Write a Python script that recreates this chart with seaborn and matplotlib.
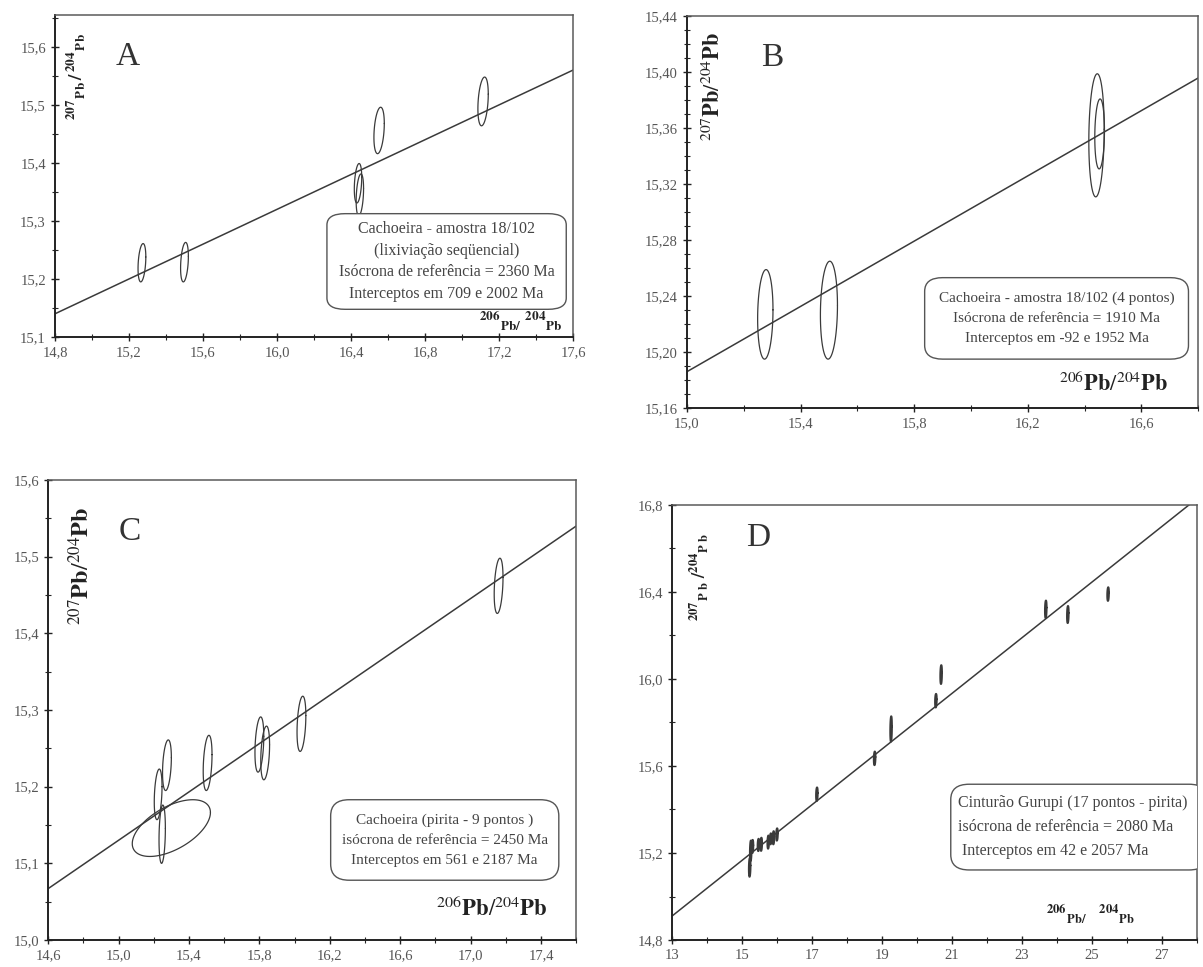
"""
Pb-Pb reference isochrons, four panels (A-D).
Rebuilt with seaborn/matplotlib from the scanned figure.
"""

import numpy as np
import matplotlib
matplotlib.use("Agg")
import matplotlib.pyplot as plt
from matplotlib.patches import FancyBboxPatch
from matplotlib.ticker import FixedLocator, AutoMinorLocator, FuncFormatter
import seaborn as sns

# ---- panel A : ellipses (centre, half-extent x / y, correlation)
a_x   = [15.27, 15.50, 16.438, 16.448, 16.552, 17.114]
a_y   = [15.228, 15.229, 15.365, 15.345, 15.456, 15.506]
a_sx  = [0.021, 0.021, 0.020, 0.020, 0.028, 0.028]
a_sy  = [0.033, 0.034, 0.034, 0.036, 0.040, 0.042]
a_rho = [0.3, 0.3, 0.3, 0.3, 0.3, 0.3]
a_line_x = [14.8, 17.6]
a_line_y = [15.140, 15.560]
a_xticks = [14.8, 15.2, 15.6, 16.0, 16.4, 16.8, 17.2, 17.6]
a_yticks = [15.1, 15.2, 15.3, 15.4, 15.5, 15.6]

# ---- panel B
b_x   = [15.276, 15.50, 16.442, 16.453]
b_y   = [15.227, 15.230, 15.355, 15.356]
b_sx  = [0.027, 0.030, 0.027, 0.017]
b_sy  = [0.032, 0.035, 0.044, 0.025]
b_rho = [0.1, 0.1, 0.1, 0.1]
b_line_x = [15.0, 16.8]
b_line_y = [15.186, 15.396]
b_xticks = [15.0, 15.4, 15.8, 16.2, 16.6]
b_yticks = [15.16, 15.20, 15.24, 15.28, 15.32, 15.36, 15.40, 15.44]

# ---- panel C
c_x   = [15.225, 15.275, 15.248, 15.30, 15.506, 15.80, 15.833, 16.039, 17.159]
c_y   = [15.19, 15.228, 15.138, 15.146, 15.231, 15.255, 15.244, 15.282, 15.462]
c_sx  = [0.022, 0.025, 0.018, 0.222, 0.025, 0.025, 0.025, 0.025, 0.025]
c_sy  = [0.033, 0.033, 0.038, 0.037, 0.036, 0.036, 0.035, 0.036, 0.036]
c_rho = [0.3, 0.3, 0.2, 0.55, 0.3, 0.3, 0.3, 0.3, 0.3]
c_line_x = [14.6, 17.6]
c_line_y = [15.067, 15.540]
c_xticks = [14.6, 15.0, 15.4, 15.8, 16.2, 16.6, 17.0, 17.4]
c_yticks = [15.0, 15.1, 15.2, 15.3, 15.4, 15.5, 15.6]

# ---- panel D (17 points)
d_x  = [15.22, 15.25, 15.30, 15.47, 15.55, 15.75, 15.82, 15.90, 16.00, 17.14,
        18.79, 19.26, 20.54, 20.69, 23.68, 24.31, 25.46]
d_y  = [15.134, 15.21, 15.23, 15.237, 15.24, 15.25, 15.265, 15.27, 15.285, 15.47,
        15.635, 15.77, 15.90, 16.02, 16.32, 16.296, 16.39]
d_sx = [0.022] * 17
d_sy = [0.043, 0.047, 0.03, 0.028, 0.03, 0.03, 0.025, 0.03, 0.028, 0.031,
        0.031, 0.058, 0.031, 0.043, 0.04, 0.039, 0.031]
d_rho = [0.2] * 17
d_line_x = [13.0, 28.0]
d_line_y = [14.91, 16.829]
d_xticks = [13, 15, 17, 19, 21, 23, 25, 27]
d_yticks = [14.8, 15.2, 15.6, 16.0, 16.4, 16.8]

texts = {
    "A": "Cachoeira - amostra 18/102\n(lixiviação seqüencial)\n"
         "Isócrona de referência = 2360 Ma\nInterceptos em 709 e 2002 Ma",
    "B": "Cachoeira - amostra 18/102 (4 pontos)\n"
         "Isócrona de referência = 1910 Ma\nInterceptos em -92 e 1952 Ma",
    "C": "Cachoeira (pirita - 9 pontos )\n"
         "isócrona de referência = 2450 Ma\nInterceptos em 561 e 2187 Ma",
    "D": "Cinturão Gurupi (17 pontos - pirita)\n"
         "isócrona de referência = 2080 Ma\n Interceptos em 42 e 2057 Ma",
}

INK = "#3a3a3a"

sns.set_theme(style="ticks")
plt.rcParams["font.family"] = ["Liberation Serif", "DejaVu Serif"]
plt.rcParams["mathtext.fontset"] = "stix"
plt.rcParams["axes.edgecolor"] = "#222222"


def ellipse_pts(x, y, sx, sy, rho, n=120):
    t = np.linspace(0, 2 * np.pi, n)
    ex = x + sx * np.cos(t)
    ey = y + sy * (rho * np.cos(t) + np.sqrt(1 - rho ** 2) * np.sin(t))
    return ex, ey


def comma(fmt):
    return FuncFormatter(lambda v, p: (fmt % v).replace(".", ","))


def panel(ax, xs, ys, sxs, sys_, rhos, lx, ly, lw_ell=0.9):
    sns.lineplot(x=lx, y=ly, ax=ax, color=INK, lw=1.1, sort=False)
    for x, y, sx, sy, r in zip(xs, ys, sxs, sys_, rhos):
        ex, ey = ellipse_pts(x, y, sx, sy, r)
        ax.plot(ex, ey, color=INK, lw=lw_ell)


def style(ax, xlim, ylim, xticks, yticks, ysub, xfmt, yfmt):
    ax.set_xlim(*xlim)
    ax.set_ylim(*ylim)
    ax.xaxis.set_major_locator(FixedLocator(xticks))
    ax.yaxis.set_major_locator(FixedLocator(yticks))
    ax.xaxis.set_minor_locator(AutoMinorLocator(2))
    ax.yaxis.set_minor_locator(AutoMinorLocator(ysub))
    ax.xaxis.set_major_formatter(comma(xfmt))
    ax.yaxis.set_major_formatter(comma(yfmt))
    ax.tick_params(which="major", direction="inout", length=6, width=1,
                   labelsize=10.5, colors="#222222", labelcolor="#555555")
    ax.tick_params(which="minor", direction="inout", length=4, width=0.8)
    for side, s in ax.spines.items():
        s.set_visible(True)
        if side in ("top", "right"):
            s.set_linewidth(1.1)
            s.set_color("#5a5a5a")
        else:
            s.set_linewidth(1.4)
    ax.set_xlabel("")
    ax.set_ylabel("")


def box(ax, x0, y0, x1, y1, txt, fs, ha="center", tx=None, ls=1.6):
    p = FancyBboxPatch((x0, y0), x1 - x0, y1 - y0, transform=ax.transAxes,
                       boxstyle="round,pad=0,rounding_size=0.035",
                       fc="white", ec="#555555", lw=1.0, clip_on=True,
                       zorder=3)
    ax.add_patch(p)
    if tx is None:
        tx = (x0 + x1) / 2
    ax.text(tx, (y0 + y1) / 2, txt, transform=ax.transAxes, ha=ha,
            va="center", fontsize=fs, color="#444444", linespacing=ls,
            zorder=4, clip_on=True)


fig = plt.figure(figsize=(12.03, 9.67), dpi=100)
axA = fig.add_axes([0.0457, 0.6515, 0.4306, 0.333])
axB = fig.add_axes([0.571, 0.578, 0.425, 0.405])
axC = fig.add_axes([0.040, 0.0279, 0.439, 0.4757])
axD = fig.add_axes([0.5586, 0.0279, 0.4364, 0.450])

# A
panel(axA, a_x, a_y, a_sx, a_sy, a_rho, a_line_x, a_line_y)
style(axA, (14.8, 17.6), (15.1, 15.655), a_xticks, a_yticks, 2, "%.1f", "%.1f")
box(axA, 0.525, 0.086, 0.987, 0.383, texts["A"], 11.5, ls=1.45)
axA.text(0.90, 0.048, r"$\mathbf{^{206}{}_{Pb/}\ ^{204}{}_{Pb}}$",
         transform=axA.transAxes, ha="center", va="center", fontsize=13.5,
         color="#222222")
axA.text(0.04, 0.81, r"$\mathbf{^{207}{}_{P\,b\,}/\,^{204}{}_{P\,b}}$",
         transform=axA.transAxes, rotation=90, ha="center", va="center",
         fontsize=13.5, color="#222222")
axA.text(0.141, 0.87, "A", transform=axA.transAxes, ha="center",
         va="center", fontsize=24, color="#333333")

# B
panel(axB, b_x, b_y, b_sx, b_sy, b_rho, b_line_x, b_line_y)
style(axB, (15.0, 16.8), (15.16, 15.44), b_xticks, b_yticks, 4, "%.1f", "%.2f")
box(axB, 0.465, 0.125, 0.981, 0.333, texts["B"], 11, ls=1.7)
axB.text(0.834, 0.06, r"$^{206}\mathbf{Pb}/^{204}\mathbf{Pb}$",
         transform=axB.transAxes, ha="center", va="center", fontsize=16,
         color="#222222")
axB.text(0.053, 0.82, r"$^{207}\mathbf{Pb}/^{204}\mathbf{Pb}$",
         transform=axB.transAxes, rotation=90, ha="center", va="center",
         fontsize=16, color="#222222")
axB.text(0.167, 0.895, "B", transform=axB.transAxes, ha="center",
         va="center", fontsize=24, color="#333333")

# C
panel(axC, c_x, c_y, c_sx, c_sy, c_rho, c_line_x, c_line_y)
style(axC, (14.6, 17.6), (15.0, 15.6), c_xticks, c_yticks, 2, "%.1f", "%.1f")
box(axC, 0.535, 0.13, 0.967, 0.305, texts["C"], 11, ls=1.7)
axC.text(0.84, 0.068, r"$^{206}\mathbf{Pb}/^{204}\mathbf{Pb}$",
         transform=axC.transAxes, ha="center", va="center", fontsize=16.5,
         color="#222222")
axC.text(0.063, 0.814, r"$^{207}\mathbf{Pb}/^{204}\mathbf{Pb}$",
         transform=axC.transAxes, rotation=90, ha="center", va="center",
         fontsize=17.5, color="#222222")
axC.text(0.154, 0.887, "C", transform=axC.transAxes, ha="center",
         va="center", fontsize=24, color="#333333")

# D
panel(axD, d_x, d_y, d_sx, d_sy, d_rho, d_line_x, d_line_y, lw_ell=1.5)
style(axD, (13, 28), (14.8, 16.8), d_xticks, d_yticks, 2, "%.0f", "%.1f")
box(axD, 0.531, 0.161, 1.02, 0.358, texts["D"], 11.5, ha="left", tx=0.545,
    ls=1.65)
axD.text(0.797, 0.058, r"$\mathbf{^{206}{}_{Pb/}\ \ \ ^{204}{}_{Pb}}$",
         transform=axD.transAxes, ha="center", va="center", fontsize=13,
         color="#222222")
axD.text(0.051, 0.835, r"$\mathbf{^{207}{}_{P\ b}\ /^{204}{}_{P\ b}}$",
         transform=axD.transAxes, rotation=90, ha="center", va="center",
         fontsize=13, color="#222222")
axD.text(0.165, 0.925, "D", transform=axD.transAxes, ha="center",
         va="center", fontsize=24, color="#333333")

fig.savefig("out.png", dpi=100)
